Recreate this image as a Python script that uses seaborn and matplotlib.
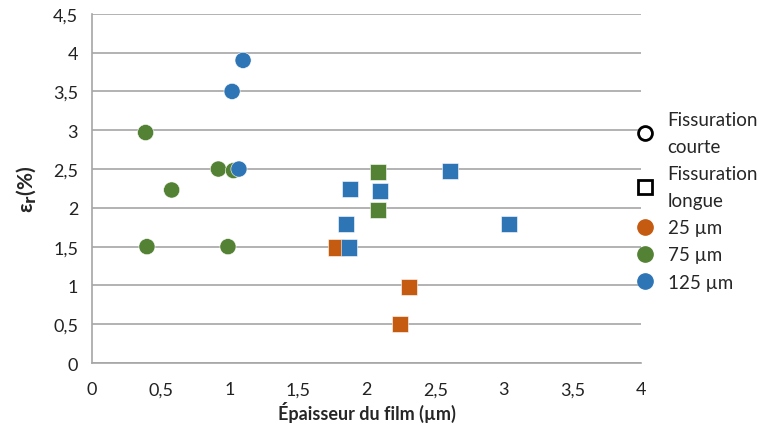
import pandas as pd
import matplotlib
matplotlib.use("Agg")
import matplotlib.pyplot as plt
import seaborn as sns
from matplotlib.ticker import FuncFormatter, MultipleLocator
from matplotlib.lines import Line2D

# Data
films = ["25 µm", "75 µm", "125 µm"]
colors = ["#C55A11", "#548235", "#2E75B6"]

# short cracking (circles)
court_x_75 = [0.39, 0.40, 0.58, 0.92, 1.03, 0.99]
court_y_75 = [2.97, 1.50, 2.23, 2.50, 2.48, 1.50]
court_x_125 = [1.10, 1.02, 1.07]
court_y_125 = [3.90, 3.50, 2.50]

# long cracking (squares)
long_x_25 = [1.78, 2.31, 2.24]
long_y_25 = [1.49, 0.98, 0.50]
long_x_75 = [2.08, 2.08]
long_y_75 = [2.46, 1.97]
long_x_125 = [2.61, 1.88, 2.10, 1.85, 3.04, 1.87]
long_y_125 = [2.48, 2.24, 2.22, 1.79, 1.79, 1.49]

rows = []
for xs, ys, f, t in [
    (long_x_25, long_y_25, "25 µm", "longue"),
    (court_x_75, court_y_75, "75 µm", "courte"),
    (long_x_75, long_y_75, "75 µm", "longue"),
    (court_x_125, court_y_125, "125 µm", "courte"),
    (long_x_125, long_y_125, "125 µm", "longue"),
]:
    for x, y in zip(xs, ys):
        rows.append({"x": x, "y": y, "film": f, "type": t})
df = pd.DataFrame(rows)

sns.set_style("white")
plt.rcParams["font.family"] = ["Lato", "DejaVu Sans"]

fig = plt.figure(figsize=(7.67, 4.35), dpi=100)
ax = fig.add_axes([0.12, 0.163, 0.716, 0.803])

ax.yaxis.grid(True, color="#a6a6a6", linewidth=1.2)
ax.set_axisbelow(True)

sns.scatterplot(data=df, x="x", y="y", hue="film", style="type",
                hue_order=films, palette=colors,
                markers={"courte": "o", "longue": "s"},
                s=135, edgecolor="white", linewidth=0.4, legend=False, ax=ax)

ax.set_xlim(0, 4)
ax.set_ylim(0, 4.5)
ax.xaxis.set_major_locator(MultipleLocator(0.5))
ax.yaxis.set_major_locator(MultipleLocator(0.5))
fmt = FuncFormatter(lambda v, p: ("%g" % v).replace(".", ","))
ax.xaxis.set_major_formatter(fmt)
ax.yaxis.set_major_formatter(fmt)
ax.tick_params(axis="both", length=0, labelsize=13, colors="#222222", pad=10)
ax.tick_params(axis="x", pad=13)

for s in ["top", "right"]:
    ax.spines[s].set_visible(False)
for s in ["left", "bottom"]:
    ax.spines[s].set_color("#a6a6a6")
    ax.spines[s].set_linewidth(1.2)

ax.set_xlabel("Épaisseur du film (µm)", fontsize=13, fontweight="bold", labelpad=3)
ax.set_ylabel(r"ε$_\mathbf{r}$(%)", fontsize=15, fontweight="bold", labelpad=10)

handles = [
    Line2D([], [], marker="o", linestyle="", markerfacecolor="white",
           markeredgecolor="black", markeredgewidth=2, markersize=10),
    Line2D([], [], marker="s", linestyle="", markerfacecolor="white",
           markeredgecolor="black", markeredgewidth=2, markersize=10),
] + [Line2D([], [], marker="o", linestyle="", color=c, markersize=11) for c in colors]
labels = ["Fissuration\ncourte", "Fissuration\nlongue"] + films
leg = ax.legend(handles, labels, loc="upper left", bbox_to_anchor=(0.99, 0.722),
                frameon=False, fontsize=13.5, handletextpad=0.7, labelspacing=0.55,
                handlelength=1.0, borderaxespad=0.0, borderpad=0.0)
for t in leg.get_texts():
    t.set_linespacing(1.7)

fig.savefig("out.png", dpi=100)
